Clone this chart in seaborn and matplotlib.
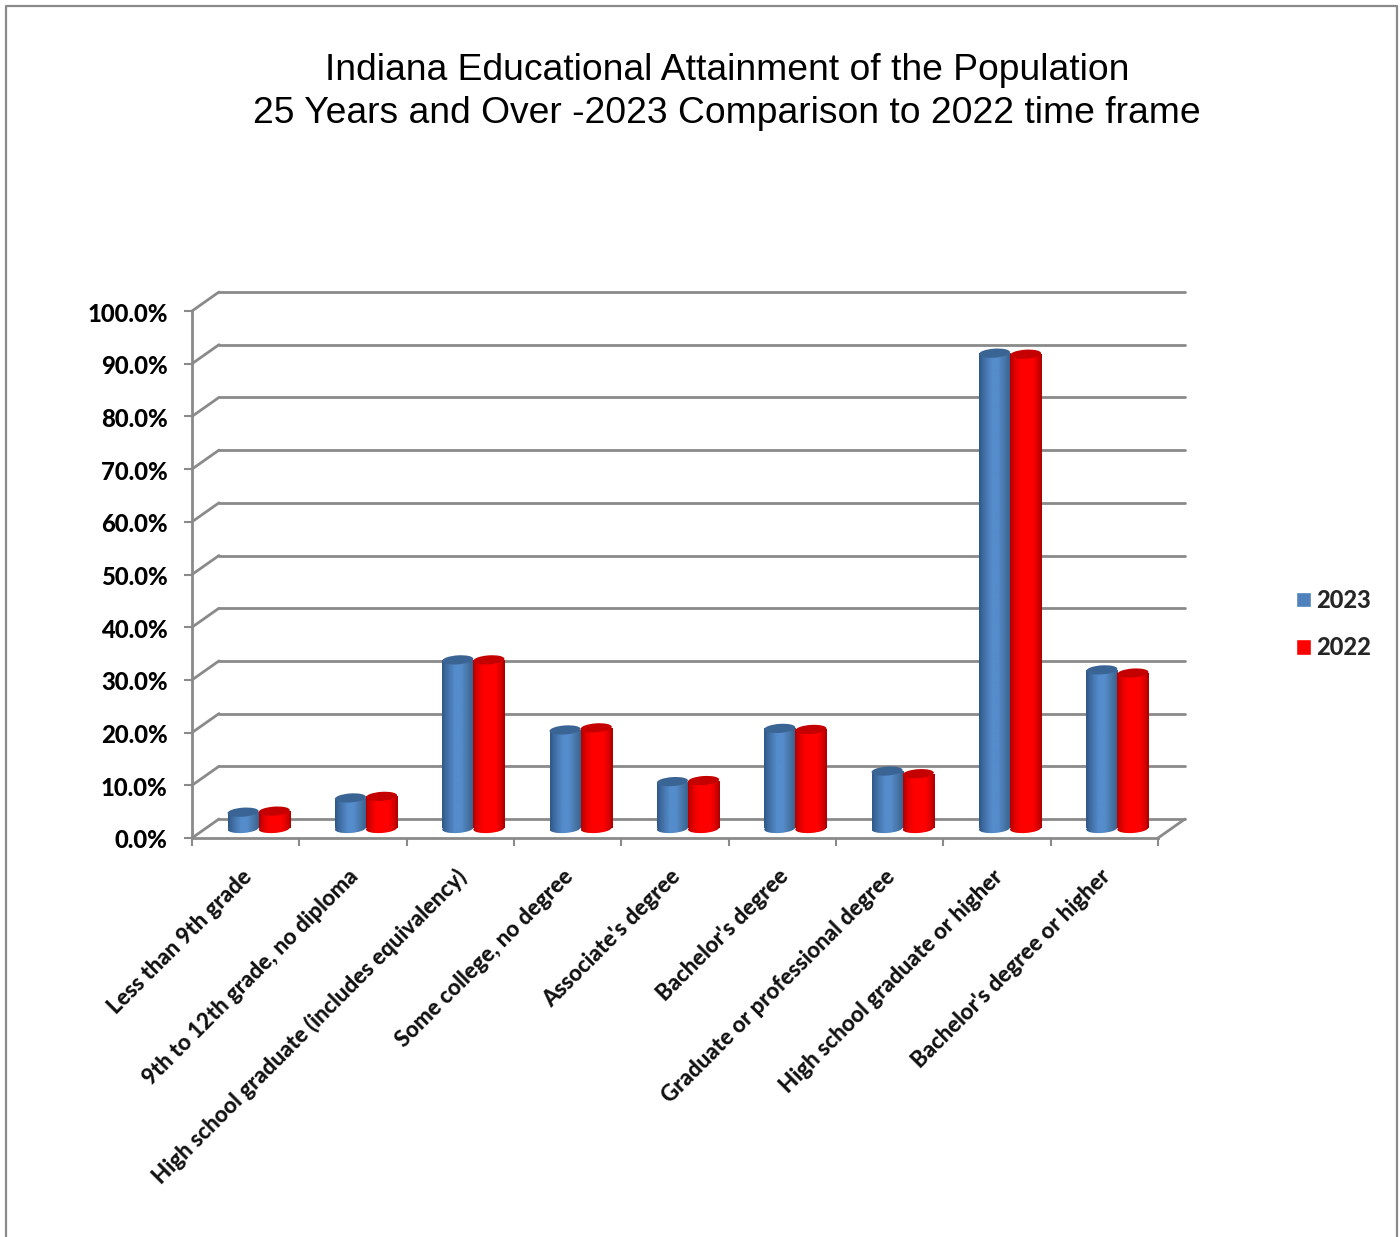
import numpy as np
import pandas as pd
import seaborn as sns
import matplotlib
matplotlib.use("Agg")
import matplotlib.pyplot as plt
from matplotlib.colors import LinearSegmentedColormap
from matplotlib.lines import Line2D
from matplotlib.patches import ConnectionPatch, Ellipse, Patch
from matplotlib.transforms import IdentityTransform, ScaledTranslation

categories = ["Less than 9th grade", "9th to 12th grade, no diploma",
              "High school graduate (includes equivalency)", "Some college, no degree",
              "Associate's degree", "Bachelor's degree", "Graduate or professional degree",
              "High school graduate or higher", "Bachelor's degree or higher"]
values_2023 = [3.1, 5.8, 32.0, 18.7, 8.9, 19.0, 10.9, 90.2, 30.1]
values_2022 = [3.3, 6.1, 32.0, 19.1, 9.1, 18.8, 10.4, 90.0, 29.5]
series_names = ["2023", "2022"]
y_ticks = [0, 10, 20, 30, 40, 50, 60, 70, 80, 90, 100]
title_lines = ["Indiana Educational Attainment of the Population",
               "25 Years and Over -2023 Comparison to 2022 time frame"]

W, H = 1400, 1237
GREY = "#8a8a8a"
BLUE, RED = "#4f81bd", "#ff0000"

sns.set_theme(style="white")
plt.rcParams["font.family"] = ["Lato", "DejaVu Sans"]

fig = plt.figure(figsize=(W / 100, H / 100), dpi=100, facecolor="white")


def axes_px(x0, x1, y_bottom, y_top, **kw):
    return fig.add_axes([x0 / W, 1 - y_bottom / H, (x1 - x0) / W, (y_bottom - y_top) / H], **kw)


FX0, FX1, FY0, FY1 = 192, 1158, 838, 311
ax_back = axes_px(FX0 + 27, FX1 + 27, FY0 - 19, FY1 - 19)
ax_front = axes_px(FX0, FX1, FY0, FY1)
ax_bar = axes_px(FX0 + 13, FX1 + 13, FY0 - 9.5, FY1 - 9.5)

n = len(categories)
xlim = (-0.5, n - 0.5)
for ax in (ax_back, ax_front, ax_bar):
    ax.set_facecolor("none")
    ax.set_xlim(*xlim)
    ax.set_ylim(y_ticks[0], y_ticks[-1])

# back wall gridlines
ax_back.set_yticks(y_ticks)
ax_back.set_xticks([])
ax_back.tick_params(length=0, labelleft=False, labelbottom=False)
ax_back.grid(axis="y", color=GREY, lw=2.0, clip_on=False)
for gl in ax_back.get_ygridlines():
    gl.set_clip_on(False)
ax_back.set_axisbelow(True)
sns.despine(ax=ax_back, left=True, bottom=True)

# front axes
ax_front.set_yticks(y_ticks)
ax_front.set_yticklabels([f"{v:.1f}%" for v in y_ticks], fontsize=17.2, fontweight=900, color="black")
ax_front.set_xticks(np.arange(n))
ax_front.set_xticklabels(categories, rotation=45, ha="right", va="top", rotation_mode="anchor",
                         fontsize=16, fontweight=900, color="#111111")
ax_front.set_xticks(np.arange(n + 1) - 0.5, minor=True)
ax_front.tick_params(axis="x", which="major", length=0, pad=20)
ax_front.tick_params(axis="x", which="minor", length=6, width=1.5, color=GREY, bottom=True)
ax_front.tick_params(axis="y", left=True, length=6, width=1.5, color=GREY, pad=11.5)
shift_x = ScaledTranslation(-5 / 100, 0, fig.dpi_scale_trans)
shift_y = ScaledTranslation(0, -1 / 100, fig.dpi_scale_trans)
for lab in ax_front.get_xticklabels():
    lab.set_transform(lab.get_transform() + shift_x)
for lab in ax_front.get_yticklabels():
    lab.set_transform(lab.get_transform() + shift_y)
sns.despine(ax=ax_front)
for side in ("left", "bottom"):
    ax_front.spines[side].set_color(GREY)
    ax_front.spines[side].set_linewidth(2.0)

# side wall and floor diagonals
for v in y_ticks:
    fig.add_artist(ConnectionPatch((xlim[0], v), (xlim[0], v), "data", "data", axesA=ax_front, axesB=ax_back,
                                   color=GREY, lw=2.0))
fig.add_artist(ConnectionPatch((xlim[1], 0), (xlim[1], 0), "data", "data", axesA=ax_front, axesB=ax_back,
                               color=GREY, lw=2.0))

# bars
df = pd.DataFrame({"category": categories * 2,
                   "value": values_2023 + values_2022,
                   "series": [series_names[0]] * n + [series_names[1]] * n})
sns.barplot(data=df, x="category", y="value", hue="series", order=categories, hue_order=series_names,
            palette=[BLUE, RED], width=0.58, gap=0, saturation=1, ax=ax_bar, legend=False)
ax_bar.set_xlim(*xlim)
ax_bar.set_ylim(y_ticks[0], y_ticks[-1])
ax_bar.axis("off")

cmap_blue = LinearSegmentedColormap.from_list(
    "b", [(0, "#2f5788"), (0.12, "#3d6a9e"), (0.4, "#558ccb"), (0.6, "#558ccb"), (0.85, "#44719f"), (1, "#33608f")])
cmap_red = LinearSegmentedColormap.from_list(
    "r", [(0, "#b00000"), (0.18, "#e80000"), (0.35, "#ff0000"), (0.7, "#ff0000"), (0.88, "#d80000"), (1, "#a80000")])
grad = np.linspace(0, 1, 128)[None, :]
ELL_H = 9
TILT = 4

fig.canvas.draw()
bars = list(ax_bar.patches)
for i, bar in enumerate(bars):
    is_blue = i < n
    cmap = cmap_blue if is_blue else cmap_red
    top_color = "#3a6494" if is_blue else "#c40000"
    bar.set_edgecolor("none")
    x0, w, h = bar.get_x(), bar.get_width(), bar.get_height()
    (px0, py0), (px1, py1) = ax_bar.transData.transform([(x0, 0), (x0 + w, h)])
    cx = (px0 + px1) / 2
    pw = px1 - px0
    z = 3 + (i % n) * 2 + (0 if is_blue else 1) * 0.5
    bar.set_zorder(z)
    bar.set_facecolor("none")
    bottom_el = Ellipse((cx, py0), pw, ELL_H, angle=TILT, transform=IdentityTransform())
    base = ax_bar.imshow(grad, cmap=cmap, aspect="auto", extent=(x0, x0 + w, -2, 2), zorder=z,
                         interpolation="bilinear")
    base.set_clip_box(fig.bbox)
    base.set_clip_path(bottom_el)
    body = ax_bar.imshow(grad, cmap=cmap, aspect="auto", extent=(x0, x0 + w, 0, h), zorder=z,
                         interpolation="bilinear")
    body.set_clip_box(fig.bbox)
    body.set_clip_path(bar)
    top_el = Ellipse((cx, py1), pw, ELL_H, angle=TILT, transform=IdentityTransform(),
                     facecolor=top_color, edgecolor="none", zorder=z + 0.1, clip_on=False)
    ax_bar.add_artist(top_el)
ax_bar.set_xlim(*xlim)
ax_bar.set_ylim(y_ticks[0], y_ticks[-1])

# title
for line, y in zip(title_lines, (70, 113.5)):
    fig.text(727 / W, 1 - y / H, line, ha="center", va="center", fontsize=26.85, color="black",
             family=["Liberation Sans", "DejaVu Sans"])

# legend
handles = [Patch(facecolor=BLUE, label=series_names[0]), Patch(facecolor=RED, label=series_names[1])]
fig.legend(handles=handles, loc="center left", bbox_to_anchor=(1296 / W, 1 - 624 / H), frameon=False,
           borderpad=0, borderaxespad=0, handlelength=0.64, handleheight=0.64, handletextpad=0.2,
           labelspacing=1.05, prop={"family": "Lato", "weight": 900, "size": 17})

# chart frame, cut by the image's lower edge
fx = [6 / W, 6 / W, 1397 / W, 1397 / W]
fy = [0, 1 - 6 / H, 1 - 6 / H, 0]
fig.add_artist(Line2D(fx, fy, color=GREY, lw=1.6))

fig.savefig("out.png", dpi=100)
